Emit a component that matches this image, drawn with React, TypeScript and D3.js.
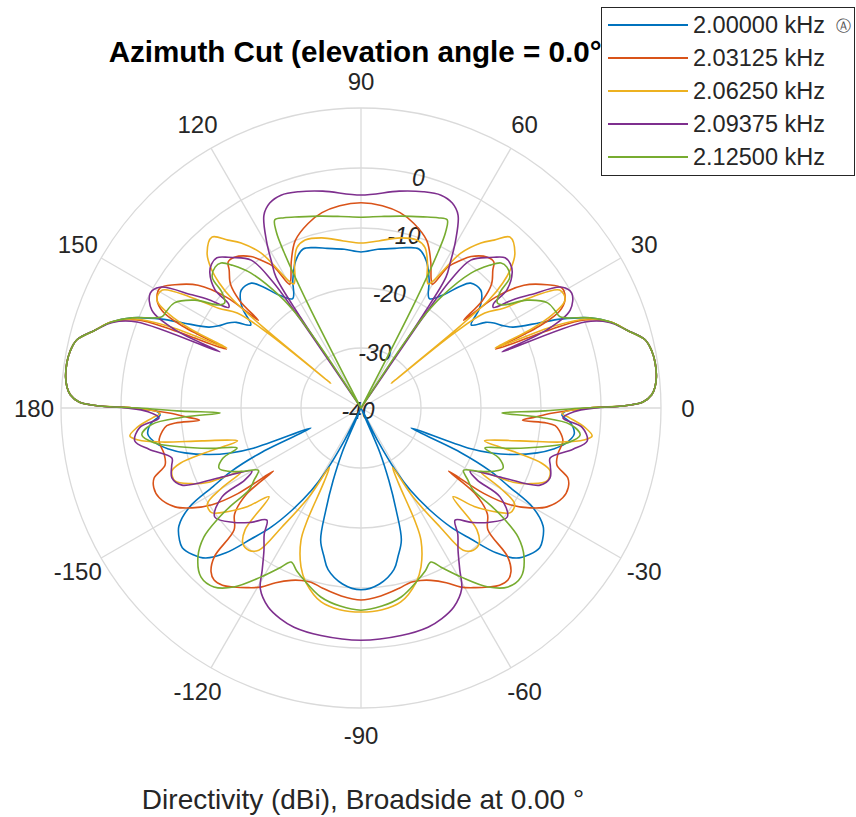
import React from "react";
import * as d3 from "d3";

// Right half of each pattern: [azimuth deg, directivity dBi], from 90 down to -90.
// The pattern is mirror-symmetric about the 90/-90 axis.
const freqLabels = ["2.00000 kHz", "2.03125 kHz", "2.06250 kHz", "2.09375 kHz", "2.12500 kHz"];
const colors = ["#0072BD", "#D95319", "#EDB120", "#7E2F8E", "#77AC30"];

const blue: [number, number][] = [
  [90,-14],[84,-13.4],[78,-12.8],[74,-12.2],[70,-11.8],[66,-13.2],[62,-15.8],[58,-18.5],[54,-16.7],[51,-14],
  [48.7,-12.3],[44.5,-12],[41.5,-13.2],[39.7,-14.5],[37,-17],[34.5,-14.8],[32.6,-13.7],[30,-12.6],[28,-11.3],
  [25.5,-7],[24,-3.6],[21.5,1],[19,4],[16.3,6.2],[13.5,8.7],[11,9.4],[8.7,9.6],[6,9.5],[4,9.1],[2.6,8.5],
  [1.2,7],[0.5,4],[0,-2],[-1,-6],[-2,-6.5],[-4,-5],[-7,-4.2],[-10,-5.5],[-12,-7.2],[-14.3,-9.7],[-17,-13.5],
  [-19,-17],[-20.5,-21],[-21.8,-31],[-24,-22],[-26,-16],[-28,-12],[-30,-7],[-33,-3.8],[-36,-2.6],[-38,-2.2],
  [-41,-2.8],[-44,-4],[-47,-7],[-50,-11.5],[-53,-15.2],[-56,-19.5],[-59,-24],[-61,-28],[-63,-34],[-64.5,-40],
  [-67,-32],[-69,-27],[-71,-22],[-73,-17],[-76,-14.5],[-78.5,-12.5],[-84,-10.5],[-90,-9.7],
];
const red: [number, number][] = [
  [90,-5.8],[84,-6.1],[78.7,-6.8],[74,-8],[68.6,-10],[64.5,-13],[61.5,-15.5],[60,-16.2],[58.3,-12.3],[56,-10.3],
  [54,-8.8],[50,-7.2],[47.7,-7.1],[46.3,-8.2],[43.5,-10],[41.5,-13],[40.5,-17.5],[39.5,-11],[37,-6],[33.5,-2.8],
  [30.8,-1],[28,-1.5],[26,-3.2],[24.7,-7],[23.6,-15.5],[22.5,-6],[21.5,0],[19,4],[16.3,6.2],[13.5,8.7],[11,9.4],
  [8.7,9.6],[6,9.5],[4,9.1],[2.6,8.5],[1.2,7],[0.5,4],[0,-2],[-1.5,-8],[-3,-11],[-4.3,-13],[-4.6,-9],[-5.2,-7.5],
  [-6.6,-6.7],[-9.3,-5.9],[-13,-6.3],[-16.2,-6],[-18.7,-3.6],[-21,-3],[-24,-3.2],[-28,-4.9],[-30.6,-7.3],
  [-33,-10.4],[-34.8,-15],[-35.8,-22],[-37,-16],[-40,-12.5],[-43.8,-10.7],[-45.4,-5.2],[-47.5,-3],[-49.5,-2.3],
  [-52,-2.5],[-54.6,-3.4],[-57.5,-4.5],[-60.8,-5.8],[-64,-7.6],[-67.9,-9],[-71,-9.6],[-74,-9.8],[-78,-9.3],
  [-84,-8.5],[-90,-8],
];
const yellow: [number, number][] = [
  [90,-12.5],[84,-12],[77,-10.9],[71.6,-10.5],[68.3,-11.2],[65.5,-13.3],[62.7,-16],[61.5,-16.5],[60.3,-15.5],
  [57.2,-9.3],[54,-6],[51.6,-4.3],[48.9,-2.2],[45.2,-3.6],[43,-5.8],[41.4,-8.5],[40.2,-12],[39.5,-20],[39.3,-33.5],
  [38.8,-20],[37.5,-14],[35,-11],[33,-6],[30.7,-1.5],[27.9,-1.5],[26,-4.5],[24.8,-9],[24.1,-15.5],[23,-5],
  [21.5,0.5],[19,4],[16.3,6.2],[13.5,8.7],[11,9.4],[8.7,9.6],[6,9.5],[4,9.1],[2.6,8.5],[1.2,7],[0.5,4],[0,-2],
  [-1.5,-6.5],[-2.7,-5.2],[-5,-2.5],[-6.9,-1.2],[-8.2,-2.5],[-9.7,-6.3],[-11.7,-13],[-14.9,-18.7],[-16,-13],
  [-17,-8.5],[-18.4,-6.8],[-21.4,-6.7],[-24,-9],[-26,-11.8],[-28,-17.5],[-30,-13],[-32,-9.8],[-35,-9.6],
  [-38,-12],[-41,-15],[-44,-18.7],[-46.4,-12],[-49,-10],[-51.7,-9.8],[-54.3,-10.8],[-56.4,-16.2],[-59.7,-22.8],
  [-62,-28.8],[-63.5,-26],[-64.5,-19],[-65.6,-15.8],[-69.3,-11.7],[-72.5,-9.5],[-78.4,-7],[-84,-6.2],[-90,-6],
];
const purple: [number, number][] = [
  [90,-4.5],[80,-3.3],[74,-2.5],[69.4,-2.1],[66,-2.6],[63.3,-4],[60.5,-8],[58.5,-11.5],[57,-14],[56.3,-22],
  [56,-40],[55.6,-22],[55,-14],[53.4,-9.3],[49.5,-7],[48.6,-6.5],[46.2,-5.3],[44,-5.4],[41.8,-6.2],[39,-8.7],
  [38.2,-11.9],[37.2,-12.3],[35.5,-9],[33.8,-6.1],[31,-0.9],[28.6,0],[25.1,-1.5],[22.8,-6.4],[21.7,-14.7],
  [21,0],[19,3.8],[16.3,6.2],[13.5,8.7],[11,9.4],[8.7,9.6],[6,9.5],[4,9.1],[2.6,8.5],[1.2,7],[0.5,4],[0,-1],
  [-1,-4.5],[-2.8,-6.3],[-5,-3],[-8.3,-1.9],[-11,-4],[-14.8,-7.4],[-17,-7],[-20.3,-6.4],[-23.3,-7.5],
  [-26.2,-13.7],[-30,-19],[-31.8,-17.2],[-32.6,-12.5],[-36.7,-9.6],[-42,-11.5],[-46,-13.5],[-50,-15.6],
  [-52.5,-13.5],[-55.7,-11.3],[-58.6,-8.4],[-60.9,-5.5],[-65,-3.4],[-69,-2.4],[-73,-1.8],[-80,-1.5],[-90,-1.3],
];
const green: [number, number][] = [
  [90,-8.2],[84,-7.9],[78,-7.3],[72,-6.5],[68,-5.8],[65.4,-5.5],[64.3,-7.5],[63.7,-11],[63,-20],[62.3,-40],
  [57.5,-40],[56.5,-28],[55.5,-21],[54.2,-17.2],[50.8,-11],[48,-8],[46,-6.4],[44,-6.2],[41.3,-7],[39.8,-9.8],
  [37.7,-11.3],[36,-10.8],[33,-7],[29.4,-4.3],[26.5,-3.8],[24.6,-3.5],[21.5,1],[19,4],[16.3,6.2],[13.5,8.7],
  [11,9.4],[8.7,9.6],[6,9.5],[4,9.1],[2.6,8.5],[1.2,7],[0.5,4],[0,-3],[-1,-10],[-2,-16.5],[-3,-10],[-4.5,-5],
  [-7,-3.2],[-9.5,-5],[-12,-9],[-15,-14],[-17.9,-18.3],[-20,-15.5],[-23,-14.3],[-25.5,-15.5],[-28,-17.5],
  [-31.3,-20],[-34,-18.5],[-36.2,-16.9],[-37,-12.5],[-37.7,-10],[-39.4,-6.1],[-42.4,-3.2],[-46.6,-1.2],
  [-50.6,-1.4],[-54.6,-3.4],[-59.4,-7.3],[-63.3,-10.3],[-65.6,-11.8],[-68.5,-10.8],[-71.7,-9.8],[-78,-7.8],
  [-84,-6.8],[-90,-6.3],
];
const series = [blue, red, yellow, purple, green];

const thetaTicks = [0, 30, 60, 90, 120, 150, 180, 210, 240, 270, 300, 330];
const thetaTickLabels = ["0", "30", "60", "90", "120", "150", "180", "-150", "-120", "-90", "-60", "-30"];
const rTicks = [-40, -30, -20, -10, 0, 10];
const rTickLabels = ["-40", "-30", "-20", "-10", "0"];

const titleText = "Azimuth Cut (elevation angle = 0.0°)";
const bottomText = "Directivity (dBi), Broadside at 0.00 °";

const W = 856, H = 817;
const cx = 361, cy = 408, R = 300;
const FONT = "'Liberation Sans', Arial, Helvetica, sans-serif";

function fullPattern(half: [number, number][]): [number, number][] {
  const right = half.slice().reverse(); // -90 .. 90
  const left = half.slice(1, half.length - 1).map(([t, v]) => [180 - t, v] as [number, number]); // 96 .. 264
  return right.concat(left);
}

export default function App() {
  const r = d3.scaleLinear().domain([-40, 10]).range([0, R]).clamp(true);
  const toRad = (deg: number) => (deg * Math.PI) / 180;
  const line = d3
    .lineRadial<[number, number]>()
    .angle((d) => toRad(90 - d[0]))
    .radius((d) => r(d[1]))
    .curve(d3.curveCatmullRomClosed.alpha(0.5));

  const pol = (deg: number, rad: number) => [cx + rad * Math.cos(toRad(deg)), cy - rad * Math.sin(toRad(deg))];

  const gridColor = "#dadada";
  const textColor = "#262626";

  return (
    <svg width={W} height={H} style={{ position: "absolute", left: 0, top: 0, background: "#fff" }} fontFamily={FONT}>
      <rect x={0} y={0} width={W} height={H} fill="#ffffff" />
      {/* grid rings */}
      {rTicks.slice(1).map((t) => (
        <circle key={"c" + t} cx={cx} cy={cy} r={r(t)} fill="none" stroke={gridColor} strokeWidth={1.3} />
      ))}
      {/* spokes */}
      {thetaTicks.map((t) => {
        const [x, y] = pol(t, R);
        return <line key={"s" + t} x1={cx} y1={cy} x2={x} y2={y} stroke={gridColor} strokeWidth={1.3} />;
      })}
      {/* theta labels */}
      {thetaTicks.map((t, i) => {
        const [x, y] = pol(t, 327);
        return (
          <text key={"tl" + t} x={x} y={y} textAnchor="middle" dominantBaseline="central" fontSize={24} fill={textColor}>
            {thetaTickLabels[i]}
          </text>
        );
      })}
      {/* r labels */}
      {rTickLabels.map((lab, i) => {
        const rr = r(rTicks[i]) - 3;
        const [x, y] = rTicks[i] === -40 ? [cx - 3, cy + 3] : pol(76, rr);
        return (
          <text key={"rl" + lab} x={x} y={y} textAnchor="middle" dominantBaseline="central" fontSize={23} fontStyle="italic" fill={textColor}>
            {lab}
          </text>
        );
      })}
      {/* patterns */}
      <g transform={`translate(${cx},${cy})`}>
        {series.map((s, i) => (
          <path key={"p" + i} d={line(fullPattern(s)) || ""} fill="none" stroke={colors[i]} strokeWidth={1.6} strokeLinejoin="round" />
        ))}
      </g>
      {/* title */}
      <text x={360} y={62} textAnchor="middle" fontSize={29.6} fontWeight="bold" fill="#000">
        {titleText}
      </text>
      {/* bottom label */}
      <text x={363} y={809} textAnchor="middle" fontSize={28} fill={textColor}>
        {bottomText}
      </text>
      {/* legend */}
      <g>
        <rect x={601.5} y={7.5} width={253} height={168} fill="#ffffff" stroke="#262626" strokeWidth={1} />
        {freqLabels.map((lab, i) => {
          const y = 25 + i * 33;
          return (
            <g key={"lg" + i}>
              <line x1={608} x2={688} y1={y} y2={y} stroke={colors[i]} strokeWidth={2} />
              <text x={693} y={y} dominantBaseline="central" fontSize={23.5} fill={textColor}>
                {lab}
              </text>
              {i === 0 && (
                <text x={836} y={y} dominantBaseline="central" fontSize={15} fill="#555">
                  Ⓐ
                </text>
              )}
            </g>
          );
        })}
      </g>
    </svg>
  );
}
